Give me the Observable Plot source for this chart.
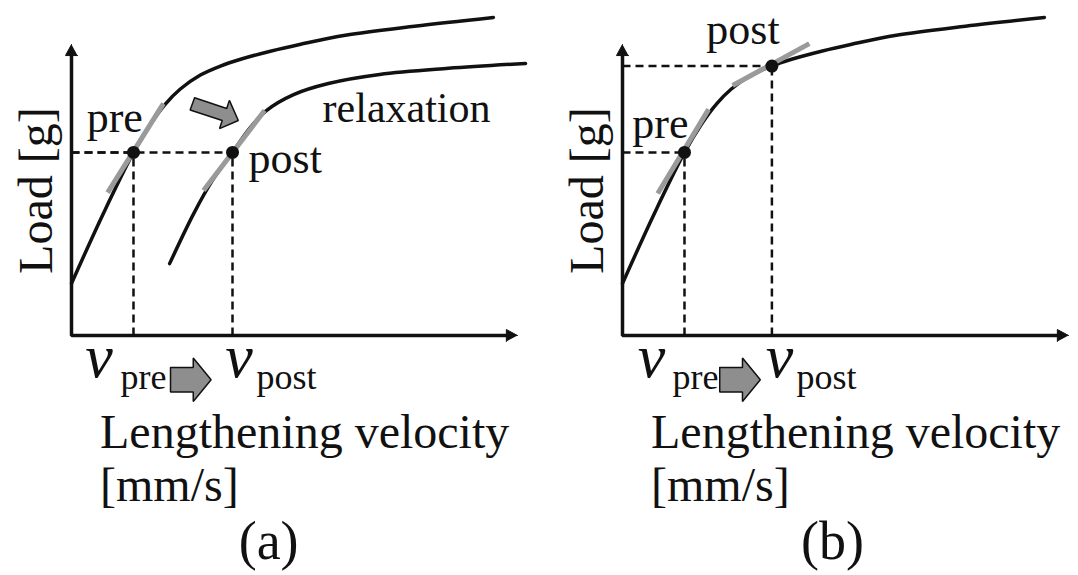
<!DOCTYPE html>
<html><head><meta charset="utf-8">
<script src="https://cdn.jsdelivr.net/npm/d3@7"></script>
<script src="https://cdn.jsdelivr.net/npm/@observablehq/plot@0.6"></script>
<style>
html,body{margin:0;padding:0;background:#fff;}
#fig{display:flex;width:1078px;height:575px;overflow:hidden;}
#fig svg{flex:none;}
</style></head><body><div id="fig"></div>
<script>
// ---- Data (schematic units: velocity 0-100, load 0-100) ----
// Load–velocity curve before relaxation (also the single curve of panel b)
const loadCurveX = [0, 7.2, 13.9, 17.7, 21.1, 24.4, 28.9, 33.4, 38.1, 44.6, 51.4, 61.4, 76.9, 94.6];
const loadCurveY = [17.9, 42.1, 62.9, 72.6, 79.6, 84.7, 89.5, 92.6, 95.0, 97.7, 100.1, 103.2, 106.3, 109.3];
// Curve after relaxation (panel a)
const relaxCurveX = [22.0, 27.4, 31.6, 36.1, 39.9, 43.7, 49.8, 57.6, 69.1, 84.5, 101.8];
const relaxCurveY = [24.7, 41.9, 53.3, 62.9, 71.1, 77.3, 82.8, 86.6, 89.7, 91.8, 93.5];

// Operating points
const pointNames = ["pre", "post"];
const pointsAX = [13.9, 36.1];
const pointsAY = [62.9, 62.9];
const pointsBX = [13.9, 33.5];
const pointsBY = [62.9, 92.6];

// Tangent (slope) segments: x1, y1, x2, y2
const tangentsA = [[8.1, 49.1, 20.6, 79.7], [29.6, 49.8, 43.3, 77.3]];
const tangentsB = [[7.9, 48.8, 19.3, 77.7], [24.7, 85.9, 41.9, 100.3]];

// Block arrows (outline vertices)
const shiftArrowX = [27.6, 34.8, 35.4, 37.4, 33.2, 33.8, 26.6, 27.6];
const shiftArrowY = [81.7, 78.0, 80.8, 73.9, 71.1, 73.9, 77.5, 81.7];
const velArrowAX = [22.2, 27.3, 27.3, 31.3, 27.3, 27.3, 22.2, 22.2];
const velArrowBX = [21.8, 26.9, 26.9, 30.9, 26.9, 26.9, 21.8, 21.8];
const velArrowY  = [-11.0, -11.0, -7.7, -15.2, -22.7, -19.4, -19.4, -11.0];

// Axis extent
const axisMax = 100;

// Text labels
const yLabel = "Load [g]";
const xLabelLines = ["Lengthening velocity", "[mm/s]"];
const panelTags = ["(a)", "(b)"];
const curveLabelsA = [
  {x: 3.4, y: 69.8, text: "pre", size: 44},
  {x: 39.7, y: 55.7, text: "post", size: 44},
  {x: 56.3, y: 73.2, text: "relaxation", size: 42}
];
const curveLabelsB = [
  {x: 2.2, y: 67.7, text: "pre", size: 44},
  {x: 18.8, y: 100.3, text: "post", size: 44}
];
const velLabelsA = [{x: 3.1, sub: 11.0, text: "pre"}, {x: 34.5, sub: 41.5, text: "post"}];
const velLabelsB = [{x: 3.4, sub: 11.2, text: "pre"}, {x: 32.1, sub: 39.0, text: "post"}];

// ---- helpers ----
const zip = (xs, ys) => xs.map((x, i) => ({x, y: ys[i]}));
const FONT = "Liberation Serif, Times New Roman, serif";
const INK = "#111";

function panel({xRange, curves, points, tangents, arrows, curveLabels, velLabels, tag, tagX}) {
  const guides = [];
  points.forEach(p => {
    guides.push({x1: 0, y1: p.y, x2: p.x, y2: p.y});
    guides.push({x1: p.x, y1: 0, x2: p.x, y2: p.y});
  });
  const headLenX = 2.5, headHalfY = 2.06, headLenY = 3.8, headHalfX = 1.35;
  const heads = [
    {id: "y", x: 0, y: axisMax}, {id: "y", x: -headHalfX, y: axisMax - headLenY}, {id: "y", x: headHalfX, y: axisMax - headLenY},
    {id: "x", x: axisMax, y: 0}, {id: "x", x: axisMax - headLenX, y: headHalfY}, {id: "x", x: axisMax - headLenX, y: -headHalfY}
  ];
  const axisPath = [{x: 0, y: axisMax - headLenY * 0.6}, {x: 0, y: 0}, {x: axisMax - headLenX * 0.6, y: 0}];
  const marks = [
    Plot.link(guides, {x1: "x1", y1: "y1", x2: "x2", y2: "y2", stroke: INK, strokeWidth: 2.5, strokeDasharray: "8,5"}),
    Plot.line(axisPath, {x: "x", y: "y", stroke: INK, strokeWidth: 3.5, strokeLinejoin: "miter"}),
    Plot.line(heads, {x: "x", y: "y", z: "id", fill: INK, stroke: INK, strokeWidth: 1}),
  ];
  curves.forEach(c => marks.push(Plot.line(c, {x: "x", y: "y", curve: "catmull-rom", stroke: INK, strokeWidth: 3.5})));
  marks.push(Plot.link(tangents, {x1: d => d[0], y1: d => d[1], x2: d => d[2], y2: d => d[3], stroke: "#9a9a9a", strokeWidth: 5}));
  marks.push(Plot.dot(points, {x: "x", y: "y", r: 6.5, fill: INK, stroke: "none"}));
  arrows.forEach(a => marks.push(Plot.line(a, {x: "x", y: "y", fill: "#8e8e8e", stroke: INK, strokeWidth: 1.5, strokeLinejoin: "miter"})));
  curveLabels.forEach(l => marks.push(Plot.text([l], {x: "x", y: "y", text: "text", fontSize: l.size, fontFamily: FONT, textAnchor: "start", lineAnchor: "bottom", fill: INK})));
  velLabels.forEach(l => {
    marks.push(Plot.text([l], {x: "x", y: () => -14.4, text: () => "v", fontSize: 62, fontStyle: "italic", fontFamily: FONT, textAnchor: "start", lineAnchor: "bottom", fill: INK}));
    marks.push(Plot.text([l], {x: "sub", y: () => -18.4, text: "text", fontSize: 36, fontFamily: FONT, textAnchor: "start", lineAnchor: "bottom", fill: INK}));
  });
  marks.push(Plot.text([xLabelLines[0]], {x: () => 6.4, y: () => -38.5, text: d => d, fontSize: 48, fontFamily: FONT, textAnchor: "start", lineAnchor: "bottom", fill: INK}));
  marks.push(Plot.text([xLabelLines[1]], {x: () => 6.4, y: () => -57.0, text: d => d, fontSize: 48, fontFamily: FONT, textAnchor: "start", lineAnchor: "bottom", fill: INK}));
  marks.push(Plot.text([tag], {x: () => tagX, y: () => -76.8, text: d => d, fontSize: 54, fontFamily: FONT, textAnchor: "middle", lineAnchor: "bottom", fill: INK}));
  marks.push(Plot.text([yLabel], {x: () => -7.9, y: () => 49.8, text: d => d, fontSize: 48, fontFamily: FONT, rotate: -90, textAnchor: "middle", lineAnchor: "middle", fill: INK}));
  return Plot.plot({
    width: 539, height: 575,
    x: {type: "linear", domain: [0, axisMax], range: xRange, axis: null},
    y: {type: "linear", domain: [0, axisMax], range: [335, 44], axis: null},
    style: {background: "#fff", overflow: "visible", fontFamily: FONT},
    marks
  });
}

const curveA1 = zip(loadCurveX, loadCurveY);
const curveA2 = zip(relaxCurveX, relaxCurveY);
const ptsA = pointNames.map((n, i) => ({name: n, x: pointsAX[i], y: pointsAY[i]}));
const ptsB = pointNames.map((n, i) => ({name: n, x: pointsBX[i], y: pointsBY[i]}));

const fig = document.getElementById("fig");
fig.appendChild(panel({
  xRange: [71, 517], curves: [curveA1, curveA2], points: ptsA, tangents: tangentsA,
  arrows: [zip(shiftArrowX, shiftArrowY), zip(velArrowAX, velArrowY)],
  curveLabels: curveLabelsA, velLabels: velLabelsA, tag: panelTags[0], tagX: 44.2
}));
fig.appendChild(panel({
  xRange: [83, 529], curves: [curveA1], points: ptsB, tangents: tangentsB,
  arrows: [zip(velArrowBX, velArrowY)],
  curveLabels: curveLabelsB, velLabels: velLabelsB, tag: panelTags[1], tagX: 47.1
}));
</script></body></html>
